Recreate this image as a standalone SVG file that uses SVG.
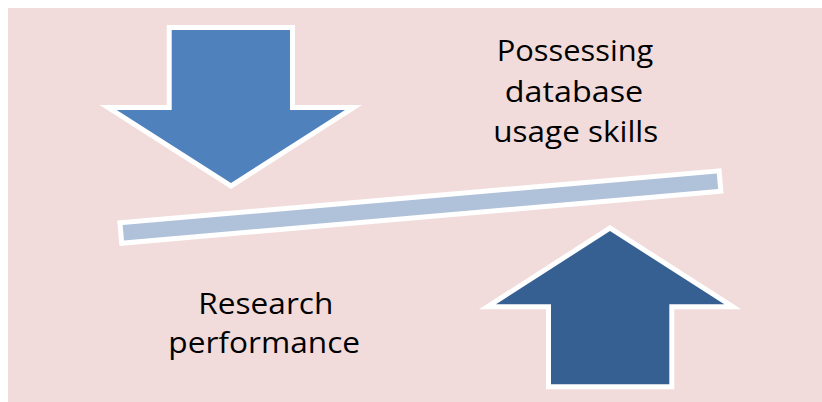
<svg xmlns="http://www.w3.org/2000/svg" width="822" height="402" viewBox="0 0 822 402">
<style>
.shape{stroke:#FFFFFF;stroke-width:10;stroke-linejoin:miter;stroke-miterlimit:10;paint-order:stroke}
.lbl{font-family:"Open Sans","Liberation Sans",sans-serif;font-size:30px;fill:#000000;text-anchor:middle}
</style>
<rect x="0" y="0" width="822" height="402" fill="#FFFFFF"/>
<rect x="8" y="8" width="814" height="394" fill="#F2DCDB"/>
<g id="down-arrow">
<path class="shape" fill="#4F81BD" d="M171.7,30 L290,30 L290,110 L345,110 L231,183 L116.7,110 L171.7,110 Z"/>
</g>
<g id="up-arrow">
<path class="shape" fill="#376092" d="M610,231 L724.3,304.3 L669.3,304.3 L669.3,384.3 L551,384.3 L551,304.3 L496,304.3 Z"/>
</g>
<g id="bar">
<rect class="shape" fill="#B0C1DA" x="-298.2" y="-7.75" width="596.4" height="15.5" transform="translate(420.4 207.05) rotate(-4.95)"/>
</g>
<g id="label-skills">
<text class="lbl" x="575" y="61" textLength="156.7" lengthAdjust="spacingAndGlyphs">Possessing</text>
<text class="lbl" x="574" y="101.5" textLength="138.3" lengthAdjust="spacingAndGlyphs">database</text>
<text class="lbl" x="575.8" y="141.5" textLength="165" lengthAdjust="spacingAndGlyphs">usage skills</text>
</g>
<g id="label-performance">
<text class="lbl" x="265.8" y="314" textLength="135" lengthAdjust="spacingAndGlyphs">Research</text>
<text class="lbl" x="264.2" y="353" textLength="191.7" lengthAdjust="spacingAndGlyphs">performance</text>
</g>
<g id="connectors"></g>
</svg>
